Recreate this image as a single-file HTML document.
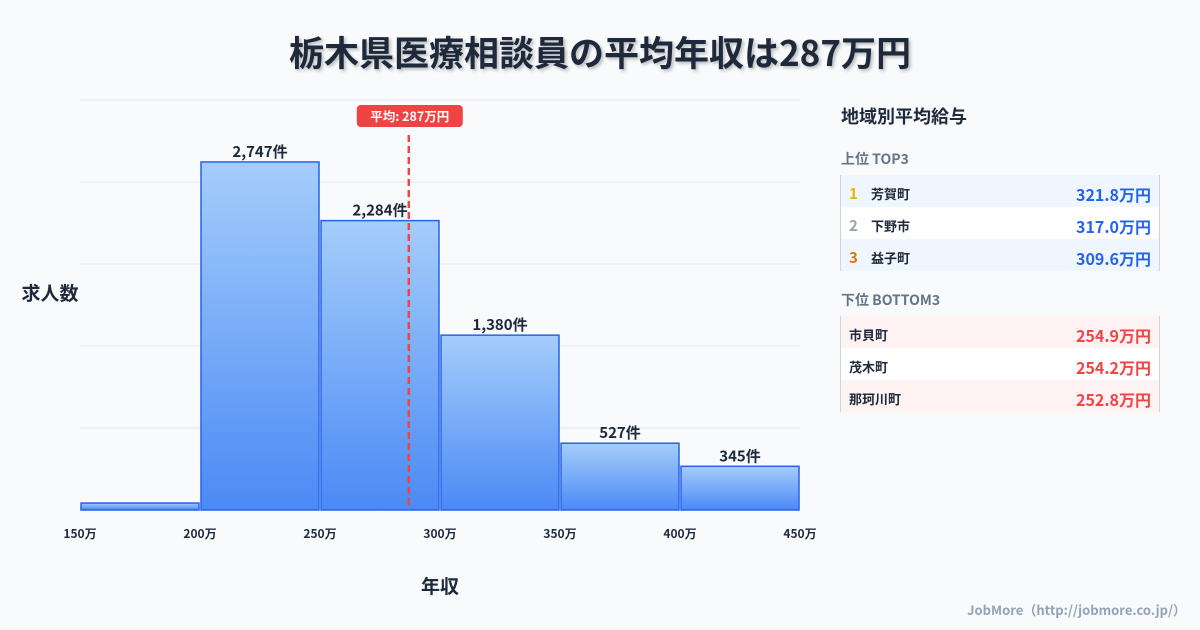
<!DOCTYPE html>
<html><head><meta charset="utf-8"><style>
body{margin:0;width:1200px;height:630px;background:#f8fafc;font-family:"Noto Sans CJK JP","Liberation Sans",sans-serif;position:relative;overflow:hidden;color:#1e293b}
svg text{font-family:"Noto Sans CJK JP","Liberation Sans",sans-serif}
.abs{position:absolute}
.row{position:absolute;left:840px;width:320px;height:32px;font-size:13px;font-weight:bold;border-left:1px solid #cbd5e1;border-right:1px solid #cbd5e1;box-sizing:border-box}
.row span{position:absolute;top:9px;line-height:20px}
.v{right:8px;font-size:16px}
.rk{font-size:15px}
</style></head><body>
<div class="abs" style="left:0;width:1200px;top:26px;text-align:center;font-size:35px;font-weight:bold;color:#1e293b;text-shadow:2px 2px 3px rgba(0,0,0,0.25)">栃木県医療相談員の平均年収は287万円</div>
<svg class="abs" style="left:0;top:0" width="830" height="630">
<defs><linearGradient id="g" x1="0" y1="0" x2="0" y2="1"><stop offset="0" stop-color="#a5cdfb"/><stop offset="1" stop-color="#4b8af5"/></linearGradient></defs>
<g id="grid"></g><g id="bars"></g><g id="xt"></g><g id="mean"></g>
<text x="50" y="300" text-anchor="middle" font-size="19" font-weight="bold" fill="#1e293b">求人数</text>
<text x="440" y="593" text-anchor="middle" font-size="19" font-weight="bold" fill="#1e293b">年収</text>
</svg>
<script>
const binStarts=[150,200,250,300,350,400];
const counts=[55,2747,2284,1380,527,345];
const labels=["","2,747件","2,284件","1,380件","527件","345件"];
const xTicks=[150,200,250,300,350,400,450];
const meanVal=287;
const yMax=3236;
const X=v=>80+(v-150)*720/300, Y=v=>510-v*410/yMax;
const NS="http://www.w3.org/2000/svg";
function mk(t,a,p,txt){const e=document.createElementNS(NS,t);for(const k in a)e.setAttribute(k,a[k]);if(txt)e.textContent=txt;p.appendChild(e);return e;}
const grid=document.getElementById('grid');
for(let i=0;i<=5;i++){const l=mk('line',{x1:80,x2:800,y1:510-i*82,y2:510-i*82,stroke:'#e2e8f0'},grid);}
const bars=document.getElementById('bars');
binStarts.forEach((b,i)=>{const x0=X(b)+1,x1=X(b+50)-1,y=Y(counts[i]);
const r=mk('rect',{x:x0,y:y,width:x1-x0,height:510-y,fill:'url(#g)',stroke:'#2563eb','stroke-width':1.5},bars);

if(labels[i]){const t=mk('text',{x:(x0+x1)/2,y:y-5,'text-anchor':'middle','font-size':15,'font-weight':'bold',fill:'#1e293b'},bars,labels[i]);}});
const xt=document.getElementById('xt');
xTicks.forEach(v=>{const t=mk('text',{x:X(v),y:538,'text-anchor':'middle','font-size':12,'font-weight':'bold',fill:'#1e293b'},xt,v+'万');});
const mg=document.getElementById('mean');const mx=X(meanVal);
const ml=mk('line',{x1:mx,x2:mx,y1:135,y2:510,stroke:'#ef4444','stroke-width':2.5,'stroke-dasharray':'7,4'},mg);

const mr=mk('rect',{x:mx-52,y:105,width:106,height:22,rx:4,fill:'#ef4444'},mg);

const mt=mk('text',{x:mx+1,y:121,'text-anchor':'middle','font-size':12.5,'font-weight':'bold',fill:'#fff'},mg,'平均: '+meanVal+'万円');

</script>
<div class="abs" style="left:841px;top:103px;font-size:18px;font-weight:bold;line-height:26px">地域別平均給与</div>
<div class="abs" style="left:841px;top:149px;font-size:14px;font-weight:bold;color:#64748b;line-height:20px">上位 TOP3</div>
<div class="row" style="top:175px;background:#eff6ff"><span class="rk" style="left:8px;color:#eab308">1</span><span style="left:30px">芳賀町</span><span class="v" style="color:#2563eb">321.8万円</span></div>
<div class="row" style="top:207px;background:#fff"><span class="rk" style="left:8px;color:#9ca3af">2</span><span style="left:30px">下野市</span><span class="v" style="color:#2563eb">317.0万円</span></div>
<div class="row" style="top:239px;background:#eff6ff"><span class="rk" style="left:8px;color:#d97706">3</span><span style="left:30px">益子町</span><span class="v" style="color:#2563eb">309.6万円</span></div>
<div class="abs" style="left:841px;top:290px;font-size:14px;font-weight:bold;color:#64748b;line-height:20px">下位 BOTTOM3</div>
<div class="row" style="top:316px;background:#fef2f2"><span style="left:8px">市貝町</span><span class="v" style="color:#ef4444">254.9万円</span></div>
<div class="row" style="top:348px;background:#fff"><span style="left:8px">茂木町</span><span class="v" style="color:#ef4444">254.2万円</span></div>
<div class="row" style="top:380px;background:#fef2f2"><span style="left:8px">那珂川町</span><span class="v" style="color:#ef4444">252.8万円</span></div>
<div class="abs" style="right:14px;top:600px;font-size:13px;font-weight:bold;color:#94a3b8;line-height:20px">JobMore（http://jobmore.co.jp/）</div>
</body></html>
